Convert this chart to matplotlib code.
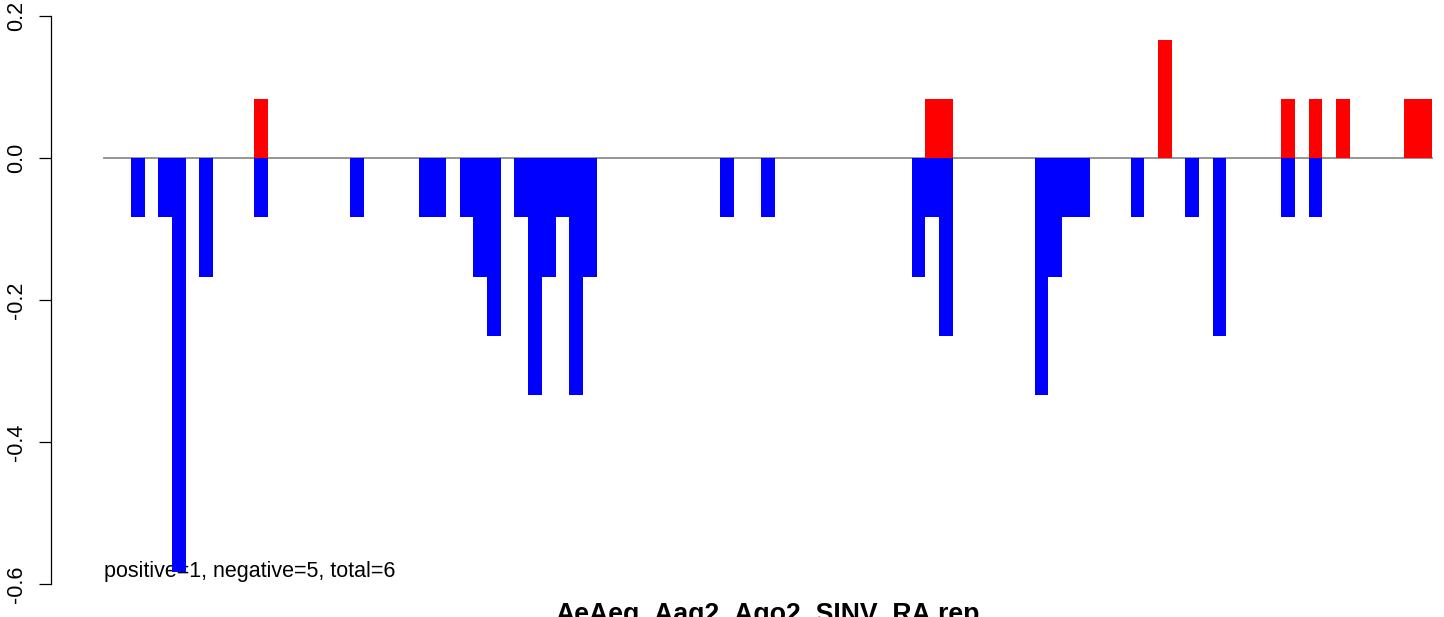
import matplotlib
matplotlib.use("Agg")
import matplotlib.pyplot as plt

# window index -> score (fraction of 12 reads)
neg_pos = [2, 4, 5, 7, 11, 18, 23, 24, 26, 27, 28, 30, 31, 32, 33, 34, 35,
           45, 48, 59, 60, 61, 68, 69, 70, 71, 75, 79, 81, 86, 88]
neg_val = [-1/12, -1/12, -7/12, -2/12, -1/12, -1/12, -1/12, -1/12, -1/12,
           -2/12, -3/12, -1/12, -4/12, -2/12, -1/12, -4/12, -2/12, -1/12,
           -1/12, -2/12, -1/12, -3/12, -4/12, -2/12, -1/12, -1/12, -1/12,
           -1/12, -3/12, -1/12, -1/12]
pos_pos = [11, 60, 61, 77, 86, 88, 90, 95, 96]
pos_val = [1/12, 1/12, 1/12, 2/12, 1/12, 1/12, 1/12, 1/12, 1/12]
n_windows = 97

yticks = [-0.6, -0.4, -0.2, 0.0, 0.2]
note = "positive=1, negative=5, total=6"
title = "AeAeg_Aag2_Ago2_SINV_RA.rep"

plt.rcParams["font.family"] = ["Liberation Sans", "DejaVu Sans"]
plt.rcParams["axes.unicode_minus"] = False

fig = plt.figure(figsize=(14.44, 6.17), dpi=100)
# plot region runs past the right/bottom edge, as in the cropped original
ax = fig.add_axes([50.5 / 1444, (617 - 598.5) / 617, (1485 - 50.5) / 1444, 596.4 / 617])

ax.plot([0, n_windows], [0, 0], color="#8c8c8c", lw=1.3, zorder=1)
ax.text(0, -0.59, note, fontsize=15.5, ha="left", va="baseline", zorder=2)
ax.bar(neg_pos, neg_val, width=1, align="edge", color="#0000ff", lw=0, zorder=3)
ax.bar(pos_pos, pos_val, width=1, align="edge", color="#ff0000", lw=0, zorder=3)

ax.set_xlim(-0.04 * n_windows, n_windows * 1.04)
ax.set_ylim(-0.62, 0.22)

for s in ["top", "right", "bottom"]:
    ax.spines[s].set_visible(False)
ax.spines["left"].set_bounds(-0.6, 0.2)
ax.spines["left"].set_linewidth(0.9)
ax.set_xticks([])
ax.set_yticks(yticks)
ax.set_yticklabels([f"{v:.1f}" for v in yticks], rotation=90, va="center", fontsize=15.5)
ax.tick_params(axis="y", length=9, width=0.9, pad=8)

fig.text(768 / 1444, -0.008, title, fontsize=19.2, fontweight="bold", ha="center", va="baseline")

fig.savefig("out.png", dpi=100)
